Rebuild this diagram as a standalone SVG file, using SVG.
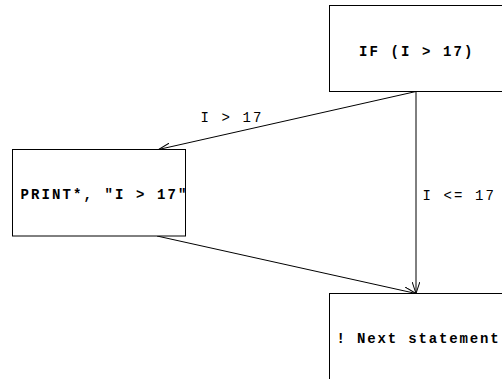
<svg xmlns="http://www.w3.org/2000/svg" width="502" height="379" viewBox="0 0 502 379">
<defs>
<marker id="arr" viewBox="0 0 12 8" refX="12" refY="4" markerWidth="12" markerHeight="8" markerUnits="userSpaceOnUse" orient="auto">
<path d="M0,0 L12,4 L0,8" fill="none" stroke="#000" stroke-width="1"/>
</marker>
</defs>
<style>
.box{fill:#fff;stroke:#000;stroke-width:1}
.code{font-family:"Liberation Mono","Courier New",monospace;font-size:14px;font-weight:bold;letter-spacing:2.1px;fill:#000}
.lbl{font-family:"Liberation Mono","Courier New",monospace;font-size:14px;letter-spacing:2.1px;fill:#000}
.edge{fill:none;stroke:#000;stroke-width:1;marker-end:url(#arr)}
</style>
<rect x="0" y="0" width="502" height="379" fill="#fff"/>
<g id="connectors">
<line class="edge" x1="416" y1="91.5" x2="158.5" y2="149.5"/>
<line class="edge" x1="416" y1="91.5" x2="416" y2="293.5"/>
<line class="edge" x1="157" y1="236" x2="416" y2="293.5"/>
<text class="lbl" x="200.5" y="121.5">I &gt; 17</text>
<text class="lbl" x="422.5" y="200">I &lt;= 17</text>
</g>
<g id="node-if">
<rect class="box" x="329.5" y="5.5" width="200" height="86"/>
<text class="code" x="359" y="56">IF (I &gt; 17)</text>
</g>
<g id="node-print">
<rect class="box" x="12.5" y="149.5" width="173" height="86.5"/>
<text class="code" x="20.5" y="198.5">PRINT*, "I &gt; 17"</text>
</g>
<g id="node-next">
<rect class="box" x="329.5" y="293.5" width="200" height="100"/>
<text class="code" x="336.5" y="342.5" style="letter-spacing:1.85px">! Next statement</text>
</g>
</svg>
